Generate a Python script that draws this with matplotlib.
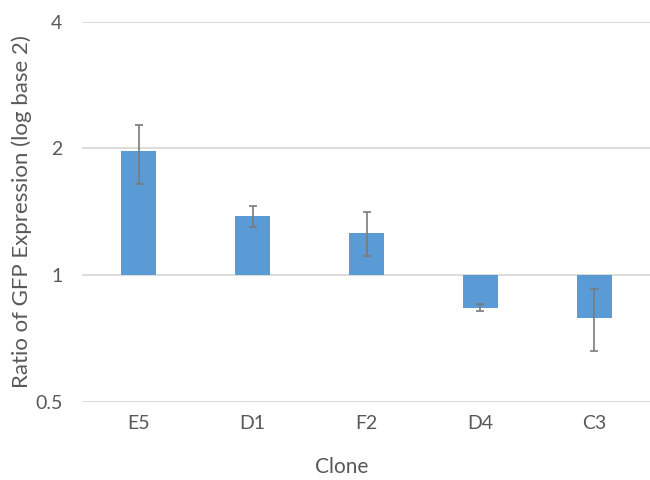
import numpy as np
import matplotlib
matplotlib.use("Agg")
import matplotlib.pyplot as plt
from matplotlib.ticker import FixedLocator, FixedFormatter, NullLocator

# datos (razon, escala log base 2)
clones = ["E5", "D1", "F2", "D4", "C3"]
ratio = [1.97, 1.38, 1.26, 0.837, 0.793]
err_hi = [2.27, 1.46, 1.41, 0.853, 0.926]
err_lo = [1.65, 1.30, 1.11, 0.821, 0.66]
yticks = [0.5, 1, 2, 4]
ytick_labels = ["0.5", "1", "2", "4"]

plt.rcParams['font.family'] = ['Lato', 'DejaVu Sans']
gris = "#595959"

fig = plt.figure(figsize=(6.5, 4.8), dpi=100)
ax = fig.add_axes([0.126, 0.162, 0.876, 0.793])

x = np.arange(len(clones))
ratio = np.array(ratio)
alturas = ratio - 1
ax.bar(x, alturas, bottom=1, width=0.31, color="#5B9BD5", zorder=3)

yerr = [ratio - np.array(err_lo), np.array(err_hi) - ratio]
ax.errorbar(x, ratio, yerr=yerr, fmt="none", ecolor="#7a7a7a",
            elinewidth=1.2, capsize=3, capthick=1.2, zorder=4)

ax.set_yscale("log", base=2)
ax.set_ylim(0.5, 4)
ax.set_xlim(-0.5, len(clones) - 0.5)
ax.yaxis.set_major_locator(FixedLocator(yticks))
ax.yaxis.set_major_formatter(FixedFormatter(ytick_labels))
ax.yaxis.set_minor_locator(NullLocator())
ax.set_xticks(x)
ax.set_xticklabels(clones)

ax.grid(axis="y", color="#d9d9d9", linewidth=1.3, zorder=0)
for s in ax.spines.values():
    s.set_visible(False)
ax.tick_params(axis="both", length=0, colors=gris, labelsize=14)
ax.tick_params(axis="y", pad=14)
ax.tick_params(axis="x", pad=9)

ax.set_xlabel("Clone", color=gris, fontsize=15, labelpad=20)
ax.xaxis.set_label_coords(0.457, -0.145)
ax.set_ylabel("Ratio of GFP Expression (log base 2)", color=gris, fontsize=16, labelpad=2)

fig.savefig("out.png", dpi=100)
